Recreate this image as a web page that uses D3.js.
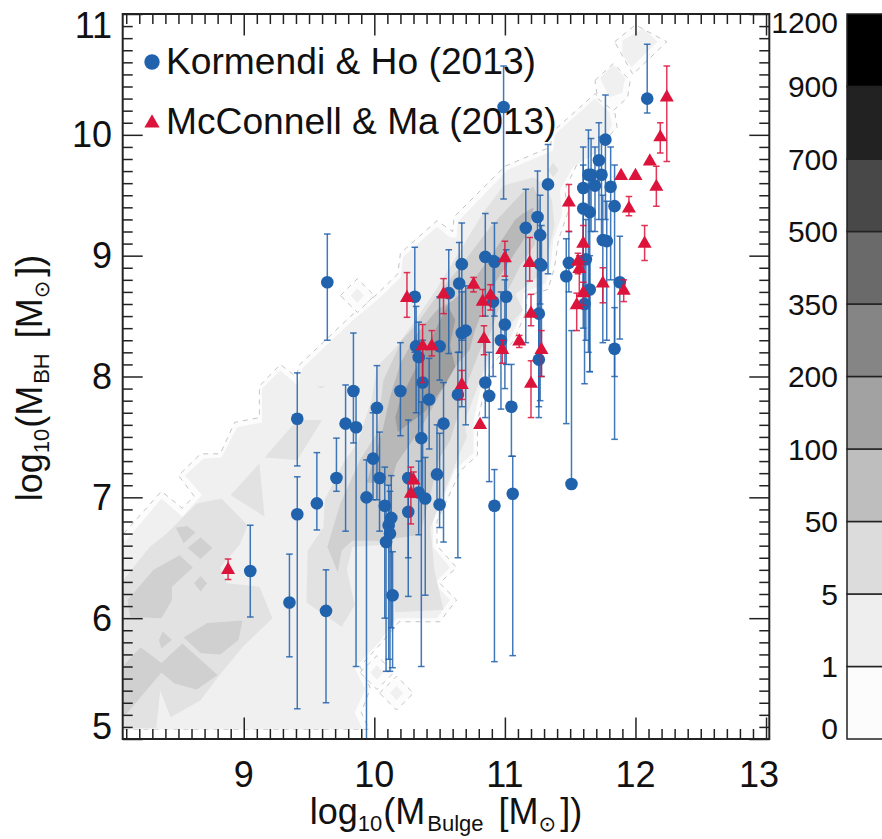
<!DOCTYPE html>
<html><head><meta charset="utf-8">
<script src="https://cdn.jsdelivr.net/npm/d3@7"></script>
<style>html,body{margin:0;padding:0;background:#fff;overflow:hidden}svg{display:block}text{font-family:"Liberation Sans",Arial,sans-serif;fill:#111}</style>
</head><body><svg id="c" width="882" height="839"></svg>
<script>
// [x, y, yLow, yHigh]
const kormendi=[[9.05,6.39,6.01,6.77],[9.35,6.13,5.68,6.53],[9.41,6.86,5.25,7.17],[9.41,7.65,7.26,8.03],[9.56,6.95,6.73,7.37],[9.63,6.06,5.30,6.40],[9.64,8.78,8.30,9.18],[9.71,7.16,7.05,7.49],[9.78,7.61,6.72,7.93],[9.84,7.88,7.45,8.36],[9.86,7.58,5.60,7.9],[9.94,7.0,4.9,7.31],[9.99,7.32,6.98,7.70],[10.02,7.74,6.98,8.09],[10.04,7.16,6.72,7.54],[10.08,6.93,6.0,7.25],[10.13,6.83,5.92,7.18],[10.11,6.77,5.66,7.1],[10.12,6.70,5.56,7.05],[10.09,6.63,5.56,6.9],[10.14,6.19,5.59,6.55],[10.20,7.88,7.51,8.28],[10.26,7.16,6.5,7.64],[10.26,6.88,6.18,7.2],[10.31,8.66,8.2,9.07],[10.32,8.25,7.7,8.58],[10.34,8.16,7.5,8.45],[10.36,7.49,5.6,7.79],[10.37,7.95,7.0,8.3],[10.34,7.04,6.69,7.3],[10.39,6.99,6.19,7.33],[10.42,7.81,7.4,8.15],[10.48,7.19,6.95,7.6],[10.50,6.94,6.75,7.53],[10.50,8.25,7.97,8.66],[10.53,7.61,6.63,7.95],[10.57,8.69,8.19,9.05],[10.64,7.85,6.50,8.2],[10.65,8.77,8.2,9.11],[10.67,8.93,8.3,9.27],[10.67,8.36,7.75,8.7],[10.70,8.38,7.6,8.75],[10.85,8.99,8.5,9.35],[10.85,7.95,7.66,8.3],[10.88,7.84,7.13,8.2],[10.91,8.62,8.0,9.0],[10.92,8.95,8.5,9.27],[10.92,6.93,5.64,7.23],[10.97,8.30,7.73,8.7],[10.99,10.23,9.47,10.57],[11.0,8.43,7.9,8.8],[11.01,8.66,8.1,9.05],[11.05,7.75,7.34,8.1],[11.06,7.03,5.69,7.34],[11.16,9.23,8.28,9.55],[11.25,9.32,8.5,9.7],[11.27,9.17,8.6,9.5],[11.27,8.93,7.8,9.3],[11.28,8.92,8.0,9.25],[11.26,8.52,7.66,8.9],[11.26,8.14,7.75,8.5],[11.33,9.59,8.85,9.92],[11.47,8.83,7.61,9.14],[11.49,8.94,8.7,9.2],[11.51,7.11,7.11,8.38],[11.60,9.56,8.7,9.9],[11.60,9.39,8.4,9.75],[11.61,8.60,7.94,8.95],[11.62,8.97,8.3,9.3],[11.64,9.67,8.2,10.04],[11.65,9.36,8.04,9.7],[11.65,8.72,8.04,9.0],[11.66,9.67,9.2,9.97],[11.69,9.58,9.2,9.9],[11.72,9.79,9.3,10.1],[11.74,9.67,9.1,9.98],[11.75,9.13,8.28,9.5],[11.77,9.96,9.3,10.33],[11.78,9.12,8.3,9.45],[11.81,9.57,8.8,9.9],[11.84,9.41,8.0,9.75],[11.84,8.23,7.48,8.57],[11.88,8.78,8.31,9.16],[12.09,10.30,10.18,10.75]];
const mcconnell=[[8.88,6.40,6.32,6.49],[10.25,8.65,8.49,8.86],[10.30,7.14,7.0,7.21],[10.28,7.03,6.78,7.25],[10.37,8.25,7.95,8.43],[10.44,8.25,8.17,8.38],[10.53,8.68,8.52,8.81],[10.67,7.93,7.81,8.05],[10.76,8.76,8.7,8.82],[10.81,7.60,7.60,7.60],[10.83,8.62,8.50,8.72],[10.84,8.31,8.18,8.42],[10.89,8.67,8.55,8.76],[10.98,8.22,8.11,8.30],[11.0,8.98,8.83,9.12],[11.11,8.29,8.24,8.34],[11.19,8.94,8.79,9.15],[11.20,8.52,8.42,8.68],[11.20,7.94,7.66,8.13],[11.28,8.22,8.0,8.38],[11.49,9.44,9.20,9.59],[11.55,8.59,8.38,8.69],[11.56,8.95,8.85,9.02],[11.57,8.89,8.67,9.0],[11.60,9.10,8.95,9.25],[11.60,8.69,8.59,8.78],[11.75,8.77,8.61,8.90],[11.89,9.66,9.66,9.66],[11.91,8.71,8.62,8.80],[11.95,9.39,9.33,9.49],[12.0,9.66,9.66,9.66],[12.07,9.10,8.96,9.25],[12.11,9.78,9.78,9.78],[12.16,9.57,9.41,9.74],[12.19,9.98,9.85,10.10],[12.24,10.31,9.78,10.57]];
const legendLabels=["Kormendi & Ho (2013)","McConnell & Ma (2013)"];
const xTicks=[9,10,11,12,13], yTicks=[5,6,7,8,9,10,11];
const colorLabels=["0","1","5","50","100","200","350","500","700","900","1200"];
const colorBands=["#fcfcfc","#eeeeee","#dcdcdc","#bebebe","#a2a2a2","#858585","#6a6a6a","#484848","#222222","#000000"];
// density contours, in (log Mbulge, log MBH)
const level0=[
 [[8.08,6.70],[8.37,7.05],[8.53,6.91],[8.62,7.01],[8.50,7.18],[8.67,7.36],[8.82,7.36],[8.93,7.62],[9.12,7.66],[9.12,7.92],[9.28,8.10],[9.40,8.0],[9.43,8.10],[9.82,8.5],[10.02,8.68],[10.18,8.85],[10.20,9.02],[10.48,9.29],[10.6,9.2],[10.61,9.32],[11.0,9.74],[11.35,9.9],[11.36,10.02],[11.69,10.34],[11.84,10.2],[11.86,10.06],[11.73,9.92],[11.55,9.75],[11.46,9.55],[11.48,9.35],[11.41,9.13],[11.38,8.9],[11.33,8.72],[11.17,8.67],[11.16,8.53],[11.07,8.3],[10.92,8.12],[10.86,7.97],[10.79,7.62],[10.79,7.35],[10.66,7.22],[10.48,6.8],[10.48,6.6],[10.63,6.42],[10.5,6.29],[10.63,6.15],[10.5,5.97],[10.19,5.97],[10.05,5.79],[9.89,5.6],[9.97,5.42],[9.9,5.22],[9.96,5.08],[8.08,5.08]],
 [[11.69,10.45],[11.83,10.59],[11.96,10.45],[11.94,10.31],[11.83,10.20],[11.71,10.30]],
 [[11.84,10.77],[12.0,10.91],[12.24,10.77],[11.98,10.5]],
 [[9.74,8.67],[9.87,8.81],[10.0,8.67],[9.87,8.53]],
 [[9.89,5.55],[10.02,5.69],[10.15,5.55],[10.02,5.41]],
 [[10.04,5.38],[10.17,5.52],[10.30,5.38],[10.17,5.24]]];
const level1=[
 [[8.08,5.08],[8.08,6.62],[8.37,6.99],[8.53,6.84],[8.68,7.02],[8.55,7.18],[8.69,7.32],[8.83,7.33],[8.95,7.58],[9.14,7.62],[9.14,7.90],[9.28,8.05],[9.41,7.93],[9.45,8.07],[9.84,8.47],[10.04,8.65],[10.20,8.82],[10.22,8.99],[10.48,9.24],[10.58,9.15],[10.63,9.15],[10.64,9.28],[11.02,9.71],[11.37,9.87],[11.38,10.0],[11.69,10.30],[11.80,10.19],[11.82,10.08],[11.73,9.87],[11.52,9.73],[11.42,9.54],[11.44,9.35],[11.37,9.13],[11.35,8.91],[11.31,8.77],[11.14,8.69],[11.13,8.53],[11.05,8.33],[10.89,8.14],[10.83,7.97],[10.76,7.64],[10.76,7.37],[10.62,7.23],[10.45,6.81],[10.45,6.59],[10.58,6.42],[10.46,6.29],[10.58,6.15],[10.48,6.0],[10.17,6.0],[10.03,5.79],[9.85,5.59],[9.93,5.41],[9.85,5.22],[9.91,5.08]],
 [[11.73,10.47],[11.83,10.58],[11.92,10.47],[11.90,10.35],[11.80,10.31]],
 [[11.90,10.78],[12.06,10.88],[12.17,10.77],[11.97,10.56],[11.90,10.66]],
 [[9.82,8.67],[9.87,8.73],[9.92,8.67],[9.87,8.61]],
 [[9.97,5.55],[10.02,5.61],[10.07,5.55],[10.02,5.49]],
 [[10.12,5.38],[10.17,5.44],[10.22,5.38],[10.17,5.32]]];
const level2=[
 [[8.08,6.32],[8.28,6.59],[8.41,6.70],[8.64,6.95],[8.83,6.99],[9.03,6.77],[8.97,6.61],[8.82,6.42],[8.87,6.29],[9.12,6.26],[9.22,6.0],[8.99,5.76],[8.80,5.51],[8.67,5.32],[8.44,5.18],[8.36,5.40],[8.33,5.09],[8.08,5.09]],
 [[8.90,7.02],[9.12,7.28],[9.16,6.84]],
 [[9.16,7.33],[9.41,7.64],[9.60,7.64],[9.41,7.31]],
 [[9.56,7.92],[9.63,7.92],[9.59,7.90]],
 [[11.33,9.71],[11.37,9.77],[11.41,9.71],[11.37,9.65]],
 [[9.48,6.13],[9.75,5.93],[9.85,6.11],[9.79,6.40],[9.83,6.59],[10.10,6.61],[10.16,6.05],[10.53,6.07],[10.46,6.40],[10.43,6.75],[10.64,7.33],[10.71,7.50],[10.69,7.62],[10.83,8.03],[10.89,8.22],[11.05,8.44],[11.14,8.55],[11.08,8.68],[11.27,8.84],[11.33,9.0],[11.38,9.25],[11.36,9.46],[11.31,9.58],[11.22,9.65],[10.99,9.58],[10.83,9.35],[10.48,8.73],[10.33,8.49],[10.18,8.26],[10.02,8.08],[9.98,7.81],[9.87,7.45],[9.76,7.28],[9.62,6.98],[9.61,6.75],[9.49,6.56]]];
const level3=[
 [[9.64,6.59],[9.72,6.38],[9.75,6.56],[9.83,6.64],[10.04,6.64],[10.35,6.69],[10.50,7.33],[10.58,7.47],[10.66,7.75],[10.72,7.97],[10.81,8.22],[10.89,8.36],[10.96,8.58],[11.12,8.92],[11.23,9.09],[11.25,9.25],[11.27,9.44],[11.22,9.57],[11.15,9.54],[10.89,9.24],[10.68,8.94],[10.48,8.67],[10.33,8.44],[10.21,8.30],[10.07,7.97],[10.02,7.53],[9.89,7.31],[9.74,6.95]],
 [[8.11,6.15],[8.31,6.40],[8.51,6.52],[8.61,6.42],[8.45,6.26],[8.45,6.15],[8.37,6.0],[8.13,6.01]],
 [[8.48,6.75],[8.57,6.76],[8.63,6.71],[8.54,6.62]],
 [[8.57,6.58],[8.67,6.67],[8.76,6.58],[8.67,6.49]],
 [[8.62,6.29],[8.67,6.35],[8.72,6.29],[8.67,6.22]],
 [[8.54,5.84],[8.72,5.96],[8.99,5.98],[8.96,5.82],[8.82,5.70],[8.67,5.71]],
 [[8.35,5.82],[8.38,5.89],[8.45,5.82],[8.37,5.75]],
 [[8.08,5.61],[8.21,5.76],[8.37,5.63],[8.53,5.79],[8.80,5.53],[8.64,5.41],[8.47,5.46],[8.37,5.55],[8.08,5.18]]];
const level4=[[[9.94,7.12],[10.02,7.12],[10.12,7.09],[10.17,7.28],[10.35,7.56],[10.52,7.89],[10.62,8.08],[10.73,8.22],[10.77,8.38],[10.89,8.72],[11.04,8.96],[11.19,9.21],[11.22,9.40],[11.14,9.35],[11.08,9.30],[10.89,8.99],[10.72,8.74],[10.60,8.63],[10.48,8.55],[10.33,8.36],[10.20,8.11],[10.12,7.83],[10.06,7.54]]];
const level5=[[[10.16,7.66],[10.18,7.54],[10.39,7.71],[10.54,7.93],[10.62,8.08],[10.58,8.26],[10.62,8.47],[10.56,8.59],[10.43,8.30],[10.29,8.01],[10.20,7.81]]];
const levelFills=["#fcfcfc","#f0f0f0","#e2e2e2","#d0d0d0","#b8b8b8","#9e9e9e"];

const svg=d3.select("#c");
const x=d3.scaleLinear().domain([8.073,13.025]).range([122.7,769.3]);
const y=d3.scaleLinear().domain([5,11]).range([739,14]);
svg.append("defs").append("clipPath").attr("id","clip").append("rect").attr("x",122.7).attr("y",14).attr("width",646.6).attr("height",725);
const plot=svg.append("g").attr("clip-path","url(#clip)");
const poly=d3.line().x(d=>x(d[0])).y(d=>y(d[1])).curve(d3.curveLinearClosed);
[level0,level1,level2,level3,level4,level5].forEach((lv,i)=>{
  plot.append("g").selectAll("path").data(lv).join("path").attr("d",poly).attr("fill",levelFills[i])
    .attr("stroke",i==0?"#b5b5b5":"none").attr("stroke-width",i==0?0.8:0).attr("stroke-dasharray",i==0?"5,5":null);
});
function series(data,color,mark){
  const g=plot.append("g");
  const eb=g.append("g").attr("stroke",color).attr("stroke-width",1.5).attr("stroke-opacity",0.85).attr("fill","none");
  eb.selectAll("line.v").data(data).join("line").attr("x1",d=>x(d[0])).attr("x2",d=>x(d[0])).attr("y1",d=>y(d[2])).attr("y2",d=>y(d[3]));
  [2,3].forEach(k=>eb.selectAll("line.c"+k).data(data).join("line").attr("class","c"+k).attr("x1",d=>x(d[0])-3.3).attr("x2",d=>x(d[0])+3.3).attr("y1",d=>y(d[k])).attr("y2",d=>y(d[k])));
  mark(g.append("g").attr("fill",color).selectAll("path").data(data).join("path").attr("transform",d=>`translate(${x(d[0])},${y(d[1])})`));
}
const circleSym=d3.symbol(d3.symbolCircle,Math.PI*6.3*6.3)();
const triSym=d3.symbol(d3.symbolTriangle,85)();
series(kormendi,"#2162ad",s=>s.attr("d",circleSym));
series(mcconnell,"#dc143c",s=>s.attr("d",triSym));

// frame and ticks
const minorOf=(a,b)=>d3.range(Math.round(a*10),Math.round(b*10)+1).filter(v=>v%10!=0).map(v=>v/10);
const xMinor=minorOf(8.1,13), yMinor=minorOf(5.1,10.9);
function ax(gen,t,scale,ticks,len,labels){
  const g=svg.append("g").attr("transform",t).call(gen(scale).tickValues(ticks).tickSize(len).tickFormat(labels?d=>d:""));
  g.select(".domain").remove();
  g.selectAll("line").attr("stroke","#222").attr("stroke-width",1.5);
  return g;
}
ax(d3.axisBottom,"translate(0,739)",x,xMinor,-10);
ax(d3.axisBottom,"translate(0,739)",x,xTicks,-21.5);
ax(d3.axisTop,"translate(0,14)",x,xMinor,-10);
ax(d3.axisTop,"translate(0,14)",x,xTicks,-21.5);
ax(d3.axisLeft,"translate(122.7,0)",y,yMinor,-10);
ax(d3.axisLeft,"translate(122.7,0)",y,yTicks,-20);
ax(d3.axisRight,"translate(769.3,0)",y,yMinor,-10);
ax(d3.axisRight,"translate(769.3,0)",y,yTicks,-20);
svg.append("rect").attr("x",122.7).attr("y",14).attr("width",646.6).attr("height",725).attr("fill","none").attr("stroke","#222").attr("stroke-width",2);

// tick labels
const big=36;
svg.append("g").selectAll("text").data(xTicks).join("text").attr("x",d=>x(d)-(d==13?7:0)).attr("y",786.5).attr("text-anchor","middle").attr("font-size",big).text(d=>d);
svg.append("g").selectAll("text").data(yTicks).join("text").attr("x",112).attr("y",d=>y(d)+(d==11?24:d==5?0:12.5)).attr("text-anchor","end").attr("font-size",big).text(d=>d);

// axis titles
function title(sel,parts){
  parts.forEach(p=>{
    const t=sel.append("tspan").text(p.t).attr("font-size",p.s||big);
    if(p.dy) t.attr("dy",p.dy);
    if(p.f) t.style("font-family",p.f);
    if(p.dx) t.attr("dx",p.dx);
  });
}
const sun="DejaVu Sans";
title(svg.append("text").attr("x",446).attr("y",824).attr("text-anchor","middle"),
 [{t:"log"},{t:"10",s:22,dy:7},{t:"(M",dy:-7,dx:1},{t:"Bulge",s:22,dy:7,dx:2},{t:" [M",dy:-7,dx:5},{t:"\u2299",s:21,dy:7,f:sun},{t:"])",dy:-7,dx:4}]);
title(svg.append("text").attr("transform","translate(42,378) rotate(-90)").attr("text-anchor","middle"),
 [{t:"log"},{t:"10",s:22,dy:7},{t:"(M",dy:-7,dx:1},{t:"BH",s:22,dy:7,dx:2},{t:" [M",dy:-7,dx:5},{t:"\u2299",s:21,dy:7,f:sun},{t:"])",dy:-7,dx:4}]);

// legend
svg.append("path").attr("d",d3.symbol(d3.symbolCircle,Math.PI*7.7*7.7)()).attr("transform","translate(152,62)").attr("fill","#2162ad");
svg.append("path").attr("d",d3.symbol(d3.symbolTriangle,100)()).attr("transform","translate(152,123)").attr("fill","#dc143c");
svg.append("g").selectAll("text").data(legendLabels).join("text").attr("x",166).attr("y",(d,i)=>i?134:74).attr("font-size",37.2).text(d=>d);

// colour bar
const cb=d3.scaleLinear().domain([0,colorBands.length]).range([739,14]);
svg.append("g").selectAll("rect").data(colorBands).join("rect").attr("x",847).attr("width",40)
  .attr("y",(d,i)=>cb(i+1)).attr("height",(d,i)=>cb(i)-cb(i+1)).attr("fill",d=>d).attr("stroke","#222").attr("stroke-width",1.5);
svg.append("g").selectAll("text").data(colorLabels).join("text").attr("x",838)
  .attr("y",(d,i)=>cb(i)+(i==0?0:i==10?19:10.5)).attr("text-anchor","end").attr("font-size",30).text(d=>d);
</script></body></html>
